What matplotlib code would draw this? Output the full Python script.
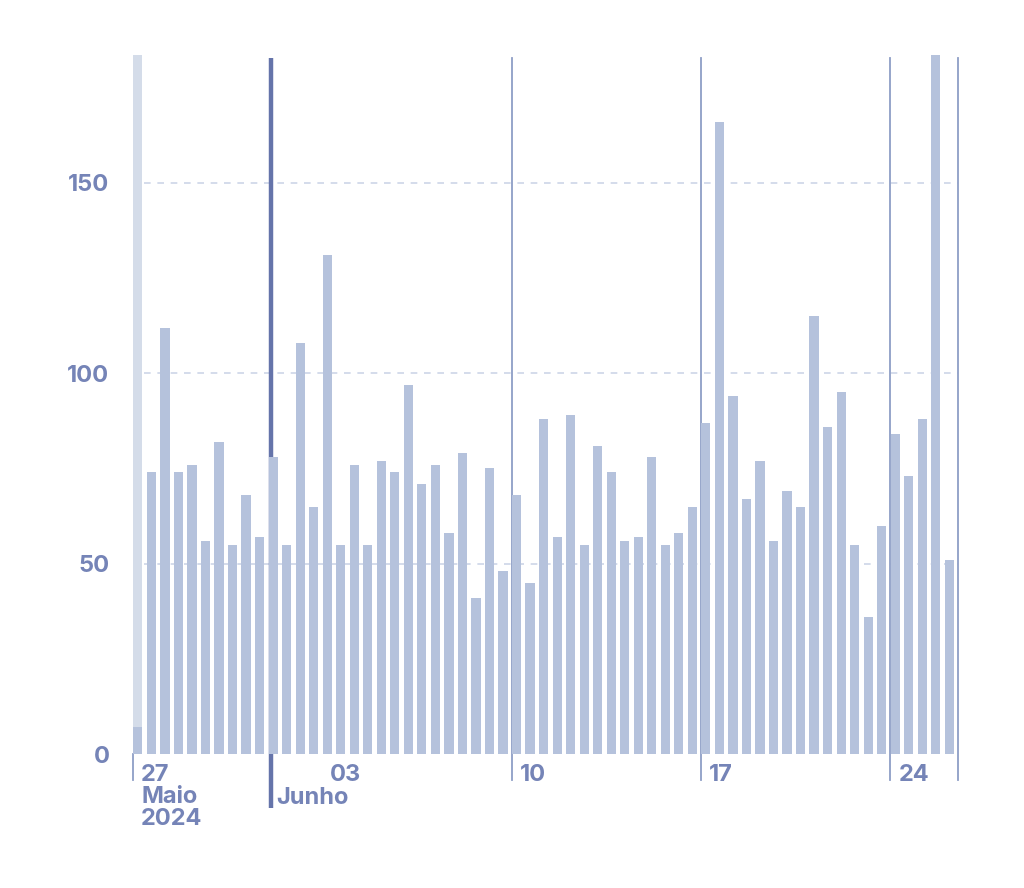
import numpy as np
import pandas as pd
import matplotlib
matplotlib.use('Agg')
import matplotlib.pyplot as plt
import matplotlib.dates as mdates
from matplotlib.transforms import blended_transform_factory, ScaledTranslation

plt.rcParams['font.family'] = ['Inter', 'DejaVu Sans']

# valores a cada 12 horas, começando em 27/05/2024 00:00
valores = [7, 74, 112, 74, 76, 56, 82, 55, 68, 57,
           78, 55, 108, 65, 131, 55, 76, 55, 77, 74,
           97, 71, 76, 58, 79, 41, 75, 48, 68, 45,
           88, 57, 89, 55, 81, 74, 56, 57, 78, 55,
           58, 65, 87, 166, 94, 67, 77, 56, 69, 65,
           115, 86, 95, 55, 36, 60, 84, 73, 88, 186,
           51]
inicio = '2024-05-27'
semanas = ['2024-05-27', '2024-06-03', '2024-06-10', '2024-06-17', '2024-06-24']
rotulos = ['27\nMaio\n2024', '03', '10', '17', '24']
mes_novo = '2024-06-01'
rotulo_mes = 'Junho'
y_ticks = [0, 50, 100, 150]

cor_barra = '#b5c2dc'
cor_fundo = '#d4dce9'
cor_linha = '#8e9ec6'
cor_mes = '#6574aa'
cor_texto = '#7584b7'

datas = pd.date_range(inicio, periods=len(valores), freq='12h')
x = mdates.date2num(datas)
fim = x[-1] + 0.5

fig = plt.figure(figsize=(10.24, 8.88), dpi=100)
ax = fig.add_axes([0.1299, 0.1509, 0.8056, 0.7872])

largura = 0.34
ax.bar(x + 0.01, valores, width=largura, align='edge', color=cor_barra, zorder=3)
# destaque da primeira barra
ax.axvspan(x[0], x[0] + largura + 0.01, color=cor_fundo, zorder=1, lw=0)

ax.set_xlim(x[0], fim)
ax.set_ylim(0, 183.6)

# grade tracejada
for v in y_ticks[1:]:
    ax.plot([x[0] + 0.4, fim], [v, v], color='#cdd6e8', lw=1.2,
            dashes=(4, 4), zorder=0)

trans = blended_transform_factory(ax.transData, ax.transAxes)
# linhas das semanas
sem = mdates.date2num(pd.to_datetime(semanas))
for i, s in enumerate(sem):
    if i == 0:
        ax.plot([s, s], [-0.037, 0], color=cor_linha, lw=1.3, transform=trans,
                clip_on=False, zorder=2)
    elif i > 1:
        ax.plot([s, s], [-0.037, 0.9957], color=cor_linha, lw=1.3, transform=trans,
                clip_on=False, zorder=2)
ax.plot([fim, fim], [-0.037, 0.9957], color=cor_linha, lw=1.3, transform=trans,
        clip_on=False, zorder=2)

# linha do novo mês
xm = mdates.date2num(pd.Timestamp(mes_novo)) + 0.12
ax.plot([xm, xm], [-0.077, 0.9957], color=cor_mes, lw=3.2, transform=trans,
        clip_on=False, zorder=2, solid_capstyle='butt')

desloc = ScaledTranslation(8 / 100, -10 / 100, fig.dpi_scale_trans)
for s, r in zip(sem, rotulos):
    ax.text(s, 0, r, transform=trans + desloc, ha='left', va='top',
            fontsize=17, fontweight='bold', color=cor_texto, linespacing=1.0)
desloc_m = ScaledTranslation(5 / 100, -33 / 100, fig.dpi_scale_trans)
ax.text(xm, 0, rotulo_mes, transform=trans + desloc_m, ha='left', va='top',
        fontsize=17, fontweight='bold', color=cor_texto)

ax.set_xticks([])
ax.set_yticks(y_ticks)
ax.set_yticklabels([str(v) for v in y_ticks], fontsize=17, fontweight='bold',
                   color=cor_texto)
ax.tick_params(axis='y', length=0, pad=17)
for sp in ax.spines.values():
    sp.set_visible(False)

fig.savefig('out.png', dpi=100, facecolor='white')
